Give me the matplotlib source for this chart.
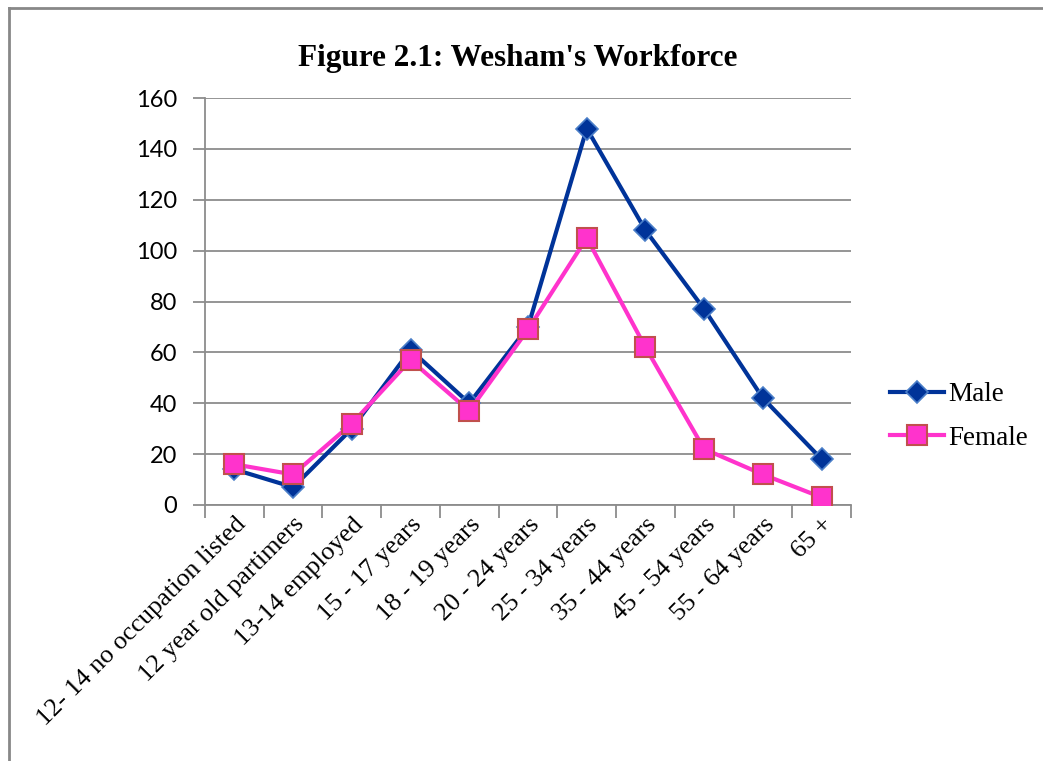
import matplotlib.pyplot as plt
import numpy as np
from matplotlib.lines import Line2D

categories = ['12- 14 no occupation listed', '12 year old partimers', '13-14 employed',
              '15 - 17 years', '18 - 19 years', '20 - 24 years', '25 - 34 years',
              '35 - 44 years', '45 - 54 years', '55 - 64 years', '65 +']
male = [14, 7, 30, 61, 40, 70, 148, 108, 77, 42, 18]
female = [16, 12, 32, 57, 37, 69, 105, 62, 22, 12, 3]
y_ticks = [0, 20, 40, 60, 80, 100, 120, 140, 160]

serif = ['Liberation Serif', 'DejaVu Serif']
sans = ['Lato', 'DejaVu Sans']
grid_col = '#8c8c8c'

fig = plt.figure(figsize=(10.43, 7.61), dpi=100)
ax = fig.add_axes([0.1966, 0.3364, 0.8159 - 0.1966, 0.8712 - 0.3364])

x = np.arange(len(categories))

ax.plot(x, male, color='#003399', lw=3, marker='D', markersize=11.5,
        markerfacecolor='#003399', markeredgecolor='#4a7ec8', markeredgewidth=1.2,
        label='Male', zorder=3)
ax.plot(x, female, color='#ff33cc', lw=3, marker='s', markersize=14,
        markerfacecolor='#ff33cc', markeredgecolor='#c0504d', markeredgewidth=1.5,
        label='Female', zorder=4)

ax.set_xlim(-0.5, len(categories) - 0.5)
ax.set_ylim(0, 160)
ax.set_yticks(y_ticks)
ax.set_yticklabels([str(v) for v in y_ticks], family=sans, fontsize=17)
ax.yaxis.grid(True, color=grid_col, lw=1.3)
ax.set_axisbelow(True)

# category ticks sit between points, like the spreadsheet original
ax.set_xticks(np.arange(-0.5, len(categories), 1.0))
ax.set_xticklabels([])
ax.set_xticks(x, minor=True)
ax.set_xticklabels(categories, minor=True, rotation=45, ha='right',
                   rotation_mode='anchor', family=serif, fontsize=18.8)
ax.tick_params(axis='x', which='minor', length=0, pad=6)
ax.tick_params(axis='x', which='major', length=9, color=grid_col, width=1.3)
ax.tick_params(axis='y', length=9, color=grid_col, width=1.3, pad=11)

for s in ['top', 'right']:
    ax.spines[s].set_visible(False)
for s in ['left', 'bottom']:
    ax.spines[s].set_color(grid_col)
    ax.spines[s].set_linewidth(1.3)

fig.text(0.496, 0.923, "Figure 2.1: Wesham's Workforce", ha='center', va='center',
         family=serif, fontsize=22.5, fontweight='bold')

fig.legend(loc='center left', bbox_to_anchor=(0.853, 0.4527), frameon=False,
           prop={'family': serif, 'size': 19.5}, handlelength=2.0, handletextpad=0.15,
           labelspacing=0.7, borderpad=0, borderaxespad=0)

# chart frame: left and top edges only
fig.add_artist(Line2D([0.009, 0.009], [0.0, 0.99], color='#888888', lw=2,
                      transform=fig.transFigure))
fig.add_artist(Line2D([0.009, 1.0], [0.99, 0.99], color='#888888', lw=2,
                      transform=fig.transFigure))

plt.savefig('out.png', dpi=100)
